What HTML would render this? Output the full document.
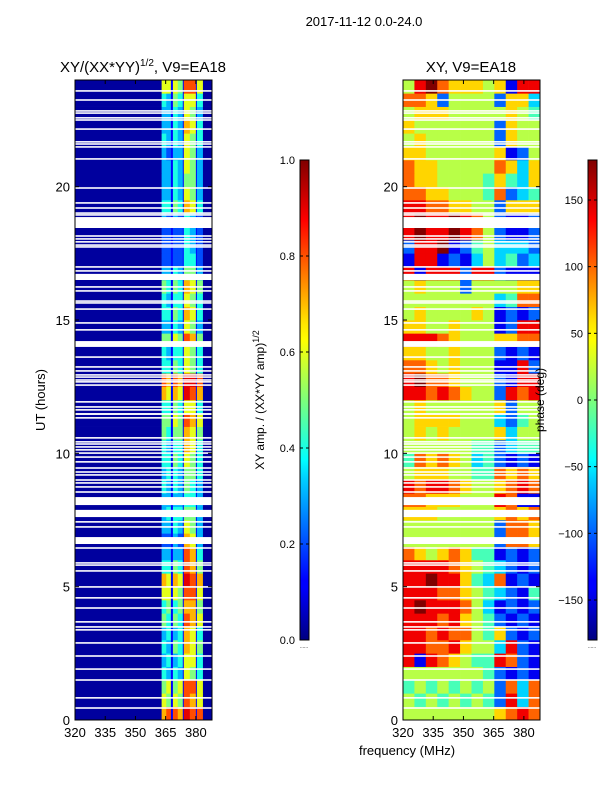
<!DOCTYPE html>
<html><head><meta charset="utf-8"><style>
html,body{margin:0;padding:0;background:#fff;}
svg text{font-family:"Liberation Sans",sans-serif;fill:#000;}
</style></head><body>
<svg id="fig" width="600" height="800" viewBox="0 0 600 800" xmlns="http://www.w3.org/2000/svg">
<defs>
<linearGradient id="jetV" x1="0" y1="1" x2="0" y2="0">
<stop offset="0" stop-color="#000080"/><stop offset="0.11" stop-color="#0000ff"/><stop offset="0.125" stop-color="#0000ff"/>
<stop offset="0.34" stop-color="#00d4ff"/><stop offset="0.375" stop-color="#00ffff"/><stop offset="0.5" stop-color="#7dff7a"/>
<stop offset="0.625" stop-color="#ffff00"/><stop offset="0.66" stop-color="#ffe600"/><stop offset="0.875" stop-color="#ff0000"/><stop offset="1" stop-color="#800000"/>
</linearGradient>
</defs>
<text x="364" y="26" font-size="13" text-anchor="middle">2017-11-12 0.0-24.0</text>
<text x="143" y="72" font-size="15" text-anchor="middle">XY/(XX*YY)<tspan font-size="10" dy="-6">1/2</tspan><tspan dy="6">, V9=EA18</tspan></text>
<text x="471" y="72" font-size="15" text-anchor="middle">XY, V9=EA18</text>
<text transform="translate(45,400) rotate(-90)" font-size="13" text-anchor="middle">UT (hours)</text>
<text x="407" y="755" font-size="13" text-anchor="middle">frequency (MHz)</text>
<text transform="translate(264,400) rotate(-90)" font-size="12" text-anchor="middle">XY amp. / (XX*YY amp)<tspan font-size="9" dy="-5">1/2</tspan></text>
<g id="left"></g>
<g id="right"></g>
<g id="axes"></g>
<text transform="translate(544,400) rotate(-90)" font-size="12" text-anchor="middle">phase (deg)</text>
</svg>
<script>
const ampBands = [ // per half-hour row from 0h: A1 A2 B1 B2 C1 C2 D (tenths)
"7887988","6565876","5656886","4343654","3434664","4354765","3434764","5454876",
"4545775","6665886","7676987","4454875","3333874","2232763","3343653","3444553",
"3333443","4343543","3443554","4454654","4344764","5455765","5565876","4454664",
"7676987","8787998","4454654","4344654","5565875","3343653","4454764","4344654",
"5454765","3343553","2222442","2222432","2222432","3232432","4454764","3343653",
"3343553","3343653","3233653","4343654","3343764","3343653","4354664","6665886"];
const phaseRows = [ // 12 freq columns, digit d -> phase -180+40d
"555555556787","545454542837","454545452737","555555542121","818765448721","887786553821",
"887877546212","888786542121","898887531212","888776543214","889886437121","888876543212",
"765676441212","555555552776","555555552776","666555556767","776665558711","878876556787",
"566655447676","476765342121","555555442344","565655556355","566665553245","565555556255",
"887876552878","897765552188","776565551182","665565552121","888765556677","665565551288",
"565555651212","555555553477","565552555566","818882882111","188121353423","288912453332",
"898898752112","898898752112","887766552666","776655547234","766555546436","766555557636",
"665555556125","565555552655","655555552655","566655555654","776255552663","589766656188"];
const leftEdges = [320,363,365.3,367.6,368.6,371,373.5,374,377,380,380.5,383.5,388];
const leftKinds = ["bg",0,1,"gap",2,3,"gap",4,5,"gap",6,"bg"];
const flagCenters = [23.59,23.25,22.84,22.76,22.58,22.5,22.16,21.68,21.6,21.49,21.04,19.95,19.39,19.2,19.01,18.94,
18.15,18.04,17.93,17.81,17.74,16.99,16.84,16.24,16.09,15.71,15.64,15.41,14.89,14.63,13.61,13.24,13.09,12.94,12.86,12.75,12.68,12.56,
11.93,11.74,11.63,11.33,10.58,10.43,10.35,10.24,10.13,10.01,9.86,9.68,9.45,9.3,9.19,9.0,8.89,8.74,8.55,7.43,7.24,6.45,5.89,5.81,5.59,4.99,4.58,4.2,3.68,3.49,3.38,2.89,2.4,1.91,1.5,0.83,0.45];
const flagStart = [18.45,16.5,13.99,11.44,8.06,7.61,6.6];
const flagEnd   = [18.86,16.73,14.21,11.51,8.36,7.88,6.86];
const xTicks = [320,335,350,365,380];
const yTicks = [0,5,10,15,20];
const ampTicks = [0,0.2,0.4,0.6,0.8,1.0];
const phaseTicks = [-150,-100,-50,0,50,100,150];

const NS="http://www.w3.org/2000/svg";
function jet(t){t=Math.max(0,Math.min(1,t));const c=v=>Math.round(255*Math.max(0,Math.min(1,1.5-Math.abs(v))));return `rgb(${c(4*t-3)},${c(4*t-2)},${c(4*t-1)})`;}
function mk(tag,attrs,parent){const e=document.createElementNS(NS,tag);for(const k in attrs)e.setAttribute(k,attrs[k]);parent.appendChild(e);return e;}
const panels=[{x0:75,x1:212},{x0:403,x1:540}];
const Y0=720,Y1=80;
const yS=h=>Y0-(h/24)*(Y0-Y1);
const xS=(p,f)=>p.x0+(f-320)/(388-320)*(p.x1-p.x0);
const L=document.getElementById('left'),R=document.getElementById('right'),A=document.getElementById('axes');
ampBands.forEach((row,r)=>{
  for(let c=0;c<leftKinds.length;c++){
    const k=leftKinds[c];let v=k==="bg"?0.03:k==="gap"?0.13:(+row[k])/10;
    const x=xS(panels[0],leftEdges[c]),x2=xS(panels[0],leftEdges[c+1]);
    const e=mk('rect',{x:x,y:yS((r+1)*0.5),width:x2-x+0.3,height:yS(r*0.5)-yS((r+1)*0.5)+0.3,fill:jet(v)},L);
    
    
  }
});
phaseRows.forEach((row,r)=>{
  const n=row.length;
  for(let c=0;c<n;c++){
    const ph=-180+(+row[c])*40;
    const f0=320+c*68/n,f1=320+(c+1)*68/n;
    const x=xS(panels[1],f0),x2=xS(panels[1],f1);
    const e=mk('rect',{x:x,y:yS((r+1)*0.5),width:x2-x+0.3,height:yS(r*0.5)-yS((r+1)*0.5)+0.3,fill:jet((ph+180)/360)},R);
    
    
  }
});
panels.forEach(p=>{
  flagCenters.forEach(h=>{const e=mk('rect',{x:p.x0,y:yS(h)-0.8,width:p.x1-p.x0,height:1.6,fill:'#fff'},A);
    });
  flagStart.forEach((s,i)=>{const e=mk('rect',{x:p.x0,y:yS(flagEnd[i]),width:p.x1-p.x0,height:yS(s)-yS(flagEnd[i]),fill:'#fff'},A);
    });
  const fr=mk('rect',{x:p.x0,y:Y1,width:p.x1-p.x0,height:Y0-Y1,fill:'none',stroke:'#000','stroke-width':1},A);
  
  xTicks.forEach(f=>{const x=xS(p,f);
    mk('line',{x1:x,y1:Y0,x2:x,y2:Y0-4,stroke:'#000'},A);mk('line',{x1:x,y1:Y1,x2:x,y2:Y1+4,stroke:'#000'},A);
    const t=mk('text',{x:x,y:Y0+17,'font-size':13,'text-anchor':'middle'},A);t.textContent=f;
    });
  yTicks.forEach(h=>{const y=yS(h);
    mk('line',{x1:p.x0,y1:y,x2:p.x0+4,y2:y,stroke:'#000'},A);mk('line',{x1:p.x1,y1:y,x2:p.x1-4,y2:y,stroke:'#000'},A);
    const t=mk('text',{x:p.x0-5,y:y+5,'font-size':13,'text-anchor':'end'},A);t.textContent=h;
    });
});
function cbar(x,lo,hi,ticks,fmt,name){
  const b=mk('rect',{x:x,y:160,width:9,height:480,fill:'url(#jetV)',stroke:'#000','stroke-width':1},A);
  
  ticks.forEach(v=>{const y=640-(v-lo)/(hi-lo)*480;
    mk('line',{x1:x,y1:y,x2:x+3,y2:y,stroke:'#000'},A);mk('line',{x1:x+9,y1:y,x2:x+6,y2:y,stroke:'#000'},A);
    const t=mk('text',{x:x-5,y:y+4,'font-size':11,'text-anchor':'end'},A);t.textContent=fmt(v);
    });
  const d=mk('text',{x:x+4,y:648,'font-size':5,'text-anchor':'middle',fill:'#888'},A);d.textContent='......';
}
cbar(300,0,1,ampTicks,v=>v.toFixed(1),'amp-colorbar');
cbar(588,-180,180,phaseTicks,v=>v<0?'\u2212'+(-v):''+v,'phase-colorbar');
</script>
</body></html>
